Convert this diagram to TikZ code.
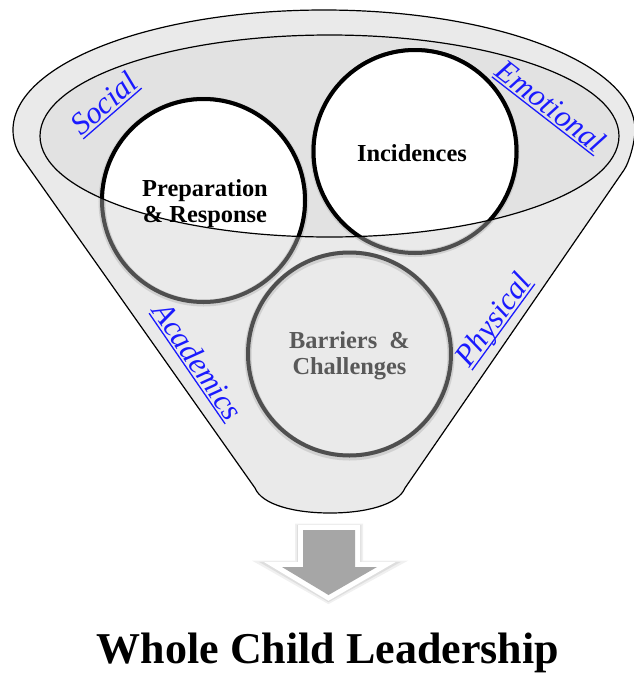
\documentclass[tikz,border=0pt]{standalone}
\usepackage{fontspec}
\setmainfont{Liberation Serif}
\definecolor{funnelfill}{HTML}{EAEAEA}
\definecolor{rimfill}{HTML}{E2E2E2}
\definecolor{ringgray}{HTML}{4F4F4F}
\definecolor{labelblue}{HTML}{1A1AFF}
\definecolor{textgray}{HTML}{595959}
\definecolor{arrowgray}{HTML}{A6A6A6}
% underlined label text: rule drawn a little below the baseline
\newcommand\ulabel[1]{\setbox0\hbox{#1}\rlap{\rule[-3.4pt]{\wd0}{1.3pt}}\box0}
\begin{document}
\begin{tikzpicture}[x=1pt,y=-1pt,
  funnel/.style={fill=funnelfill, draw=black, line width=1.2pt, line join=round},
  rim/.style={draw=black, line width=1.2pt},
  outerring/.style={circle, minimum size=203pt, inner sep=0pt, draw=ringgray, line width=4pt},
  ringshadow/.style={draw=black!30, line width=7pt, opacity=0.45},
  innerring/.style={draw=black, line width=4pt},
  dimlabel/.style={font=\fontsize{31}{31}\selectfont\itshape, text=labelblue, anchor=base, inner sep=0pt},
  circtext/.style={font=\fontsize{24.4}{26}\selectfont\bfseries, align=center, inner sep=0pt},
  titletext/.style={font=\fontsize{44}{48}\selectfont\bfseries, anchor=base, inner sep=0pt},
  arrowglow/.style={line join=miter}]
\useasboundingbox (0,0) rectangle (634,673);

% funnel body: elliptic mouth, straight sides, rounded spout
\path[funnel] (13,130) arc[start angle=180, end angle=0, x radius=311pt, y radius=120pt]
  .. controls (635,142) and (629,163) .. (624,170)
  -- (405,488)
  .. controls (398,505) and (365,513) .. (330,513)
  .. controls (295,513) and (262,505) .. (255,488)
  -- (22,158)
  .. controls (16,150) and (13,140) .. (13,130) -- cycle;

% the rim
\coordinate (rimc) at (329.5,136);
\fill[rimfill] (rimc) ellipse[x radius=289.5pt, y radius=101pt];

% the three circles, gray where they lie outside the rim
\draw[ringshadow] (203.5,201.5) circle[radius=101.5pt];
\draw[ringshadow] (415,152.5) circle[radius=101pt];
\draw[ringshadow] (349.5,355.5) circle[radius=101.5pt];
\node[outerring] (prep) at (203.5,200.5) {};
\node[outerring] (inc) at (415,151.5) {};
\node[outerring] (barr) at (349.5,354) {};

% inside the rim the circles are white with black borders
\begin{scope}
  \clip (rimc) ellipse[x radius=289.5pt, y radius=101pt];
  \fill[white] (prep.center) circle[radius=101.5pt];
  \fill[white] (inc.center) circle[radius=101.5pt];
  \draw[innerring] (prep.center) circle[radius=101.5pt];
  \draw[innerring] (inc.center) circle[radius=101.5pt];
\end{scope}
\draw[rim] (rimc) ellipse[x radius=289.5pt, y radius=101pt];

% circle texts
\node[circtext] (prep-text) at (205,204) {Preparation\\\& Response};
\node[circtext] (inc-text) at (412,153) {Incidences};
\node[circtext, text=textgray] (barr-text) at (349.5,355.7) {Barriers\ \ \&\\Challenges};

% dimension labels along the funnel
\node[dimlabel, rotate=41] (social) at (110.7,111.4) {\ulabel{Social}};
\node[dimlabel, rotate=-37.8] (emotional) at (544.6,114.2) {\ulabel{Emotional}};
\node[dimlabel, rotate=-55.5] (academics) at (189.4,367) {\ulabel{Academics}};
\node[dimlabel, rotate=53.9] (physical) at (501.2,325.4) {\ulabel{Physical}};

% block arrow out of the spout: soft shadow, white border, gray body
\coordinate (arrowtip) at (328.5,595);
\draw[arrowglow, black!6, line width=16pt, yshift=-1.5pt]
  (303,530) -- (355,530) -- (355,567) -- (377,567) -- (arrowtip) -- (282,567) -- (303,567) -- cycle;
\draw[arrowglow, black!13, line width=12.5pt, yshift=-1pt]
  (303,530) -- (355,530) -- (355,567) -- (377,567) -- (arrowtip) -- (282,567) -- (303,567) -- cycle;
\draw[arrowglow, white, line width=10pt]
  (303,530) -- (355,530) -- (355,567) -- (377,567) -- (arrowtip) -- (282,567) -- (303,567) -- cycle;
\fill[arrowgray]
  (303,530) -- (355,530) -- (355,567) -- (377,567) -- (arrowtip) -- (282,567) -- (303,567) -- cycle;

% title
\node[titletext] (title) at (328,663) {Whole Child Leadership};
\end{tikzpicture}
\end{document}
